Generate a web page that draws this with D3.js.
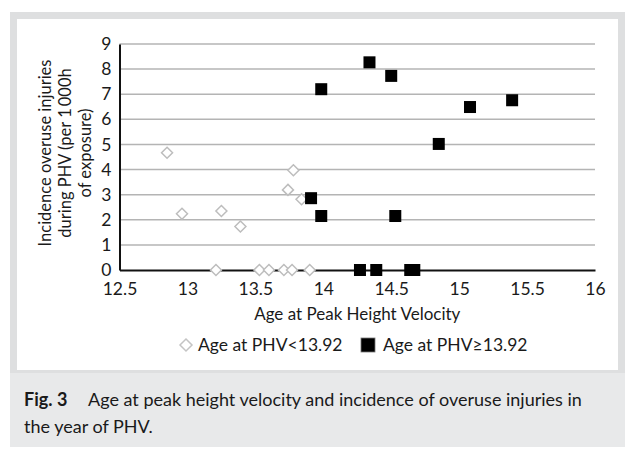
<!DOCTYPE html>
<html>
<head>
<meta charset="utf-8">
<script src="https://cdn.jsdelivr.net/npm/d3@7"></script>
<style>
  body { margin: 0; background: #fff; }
  text { font-family: Lato, "Noto Sans", sans-serif; fill: #1a1a1a; }
</style>
</head>
<body>
<svg id="chart" width="640" height="461"></svg>
<script>
// group below 13.92 years (open diamonds)
const lowAge = [12.85, 12.96, 13.25, 13.39, 13.21, 13.53, 13.60, 13.71, 13.77, 13.90, 13.78, 13.74, 13.84]
const lowInc = [4.67, 2.24, 2.35, 1.73, 0, 0, 0, 0, 0, 0, 3.97, 3.19, 2.82]
// group at or above 13.92 years (black squares)
const highAge = [13.985, 13.91, 13.985, 14.34, 14.50, 15.08, 15.39, 14.85, 14.53, 14.27, 14.39, 14.64, 14.67]
const highInc = [7.2, 2.86, 2.15, 8.27, 7.73, 6.49, 6.76, 5.02, 2.15, 0, 0, 0, 0]

const xTicks = [12.5, 13, 13.5, 14, 14.5, 15, 15.5, 16]
const yTicks = [0, 1, 2, 3, 4, 5, 6, 7, 8, 9]
const yTitle = ['Incidence overuse injuries', 'during PHV (per 1\u2009000h', 'of exposure)']
const legendLabels = ['Age at PHV<13.92', 'Age at PHV\u226513.92']

const svg = d3.select('#chart')

// frame + caption panel
svg.append('rect').attr('x', 10).attr('y', 12).attr('width', 615).attr('height', 435).attr('fill', '#e8e9ea')
svg.append('rect').attr('x', 10).attr('y', 12).attr('width', 615).attr('height', 361).attr('fill', '#dedfe0')
svg.append('rect').attr('x', 17).attr('y', 19).attr('width', 601).attr('height', 351).attr('fill', '#fff')

const x = d3.scaleLinear().domain([12.5, 16]).range([119.5, 595])
const y = d3.scaleLinear().domain([0, 9]).range([270, 44])

// gridlines
svg.append('g')
  .selectAll('line')
  .data(yTicks.filter(d => d > 0))
  .join('line')
  .attr('x1', x(12.5)).attr('x2', x(16))
  .attr('y1', d => y(d)).attr('y2', d => y(d))
  .attr('stroke', '#b4b4b4').attr('stroke-width', 1.5)

// axes
const xAxis = svg.append('g')
  .attr('transform', `translate(0,${y(0)})`)
  .call(d3.axisBottom(x).tickValues(xTicks).tickSize(0).tickPadding(13).tickFormat(d3.format('')))
xAxis.select('.domain').attr('stroke', '#111').attr('stroke-width', 2)
xAxis.selectAll('text').attr('font-size', 17.5).attr('font-family', 'Lato, sans-serif').attr('fill', '#1a1a1a')

const yAxis = svg.append('g')
  .attr('transform', `translate(${x(12.5)},0)`)
  .call(d3.axisLeft(y).tickValues(yTicks).tickSize(0).tickPadding(8))
yAxis.select('.domain').attr('stroke', '#111').attr('stroke-width', 2)
yAxis.selectAll('text').attr('font-size', 17.5).attr('font-family', 'Lato, sans-serif').attr('fill', '#1a1a1a')

// axis titles
svg.append('text')
  .attr('x', (x(12.5) + x(16)) / 2).attr('y', 320)
  .attr('text-anchor', 'middle').attr('font-size', 17)
  .text('Age at Peak Height Velocity')

svg.append('g')
  .attr('transform', 'translate(0,153) rotate(-90)')
  .selectAll('text')
  .data(yTitle)
  .join('text')
  .attr('x', 0).attr('y', (d, i) => 51 + i * 20)
  .attr('text-anchor', 'middle').attr('font-size', 16.5)
  .text(d => d)

// points
const diamond = (cx, cy, r) => `M${cx},${cy - r}L${cx + r},${cy}L${cx},${cy + r}L${cx - r},${cy}Z`

svg.append('g')
  .selectAll('path')
  .data(lowAge.map((a, i) => [a, lowInc[i]]))
  .join('path')
  .attr('d', d => diamond(x(d[0]), y(d[1]), 5.5))
  .attr('fill', '#fff').attr('stroke', '#bdbdbd').attr('stroke-width', 1.5)

svg.append('g')
  .selectAll('rect')
  .data(highAge.map((a, i) => [a, highInc[i]]))
  .join('rect')
  .attr('x', d => x(d[0]) - 6).attr('y', d => y(d[1]) - 6)
  .attr('width', 12).attr('height', 12)
  .attr('fill', '#000')

// legend
const leg = svg.append('g')
leg.append('path').attr('d', diamond(186, 345, 6)).attr('fill', '#fff').attr('stroke', '#c4c4c4').attr('stroke-width', 1.5)
leg.append('text').attr('x', 198).attr('y', 350.5).attr('font-size', 17.5).text(legendLabels[0])
leg.append('rect').attr('x', 361).attr('y', 338).attr('width', 14).attr('height', 14).attr('fill', '#000').attr('stroke', '#777').attr('stroke-width', 0.8)
leg.append('text').attr('x', 383).attr('y', 350.5).attr('font-size', 17.5).text(legendLabels[1])

// caption
const cap = svg.append('text').attr('x', 24).attr('y', 406).attr('font-size', 18)
cap.append('tspan').attr('font-weight', 'bold').text('Fig. 3')
cap.append('tspan').attr('x', 88).text('Age at peak height velocity and incidence of overuse injuries in')
svg.append('text').attr('x', 24).attr('y', 433).attr('font-size', 18).text('the year of PHV.')
</script>
</body>
</html>
